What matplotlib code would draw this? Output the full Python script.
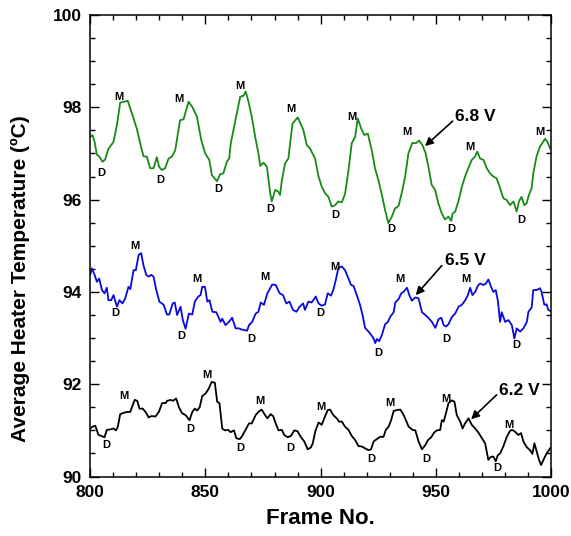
import numpy as np
import matplotlib.pyplot as plt

plt.rcParams['font.family'] = ['Liberation Sans', 'DejaVu Sans']
plt.rcParams['font.weight'] = 'bold'

# heater temperature traces, frame number vs. average temperature (C)
frames_68 = [800.0, 801.0, 801.9, 802.9, 803.9, 805.3, 806.5, 807.9, 810.1, 811.6, 813.0, 814.5,
             816.3, 818.1, 820.2, 821.7, 823.1, 824.6, 826.0, 827.5, 828.9, 829.9, 831.1, 832.5,
             834.0, 835.4, 836.9, 839.0, 840.5, 842.7, 844.4, 846.3, 848.2, 849.9, 851.7, 852.8,
             855.0, 856.4, 857.8, 859.3, 860.3, 861.0, 862.9, 865.1, 866.5, 867.5, 868.7, 870.1,
             871.6, 873.0, 873.8, 875.2, 876.7, 877.4, 878.1, 878.8, 880.3, 881.7, 882.4, 883.2,
             884.6, 886.0, 887.8, 890.1, 892.5, 894.0, 895.4, 897.6, 899.1, 900.5, 901.9, 903.4,
             904.8, 906.3, 907.7, 909.2, 910.6, 912.1, 913.5, 915.0, 916.1, 917.6, 919.0, 920.5,
             922.2, 923.6, 925.1, 926.6, 928.0, 929.4, 930.9, 932.3, 933.8, 935.2, 936.7, 938.1,
             939.8, 941.3, 942.7, 944.2, 945.6, 946.8, 948.2, 949.7, 951.1, 952.6, 954.0, 955.5,
             956.7, 957.3, 958.4, 959.8, 961.3, 962.7, 964.1, 965.6, 967.0, 968.0, 969.2, 970.7,
             972.1, 973.5, 975.0, 976.4, 977.9, 979.3, 980.8, 982.2, 983.7, 985.1, 986.1, 987.2,
             988.4, 989.4, 990.4, 991.6, 992.3, 993.7, 995.2, 996.6, 997.4, 998.5, 999.6]
temp_68 = [97.36, 97.40, 97.25, 96.97, 96.94, 96.82, 96.87, 97.10, 97.25, 97.62, 98.10, 98.12,
           98.14, 97.87, 97.54, 97.22, 96.94, 96.93, 96.68, 96.68, 96.92, 96.71, 96.64, 96.68,
           96.89, 96.93, 97.07, 97.72, 97.74, 98.12, 98.00, 97.80, 97.29, 97.00, 96.86, 96.53,
           96.40, 96.55, 96.57, 96.82, 96.89, 97.22, 97.69, 98.23, 98.25, 98.34, 98.12, 97.80,
           97.36, 97.00, 96.73, 96.80, 96.71, 96.42, 96.14, 95.96, 96.21, 96.17, 96.10, 96.42,
           96.79, 96.89, 97.65, 97.78, 97.51, 97.18, 97.11, 96.89, 96.50, 96.28, 96.14, 96.06,
           95.85, 95.88, 95.96, 95.94, 96.12, 96.64, 97.22, 97.36, 97.76, 97.54, 97.40, 97.43,
           97.07, 96.68, 96.42, 96.10, 95.77, 95.49, 95.63, 95.81, 95.86, 96.14, 96.50, 97.00,
           97.23, 97.22, 97.28, 97.18, 97.00, 96.71, 96.32, 96.21, 95.92, 95.70, 95.57, 95.63,
           95.54, 95.70, 95.74, 95.96, 96.28, 96.50, 96.68, 96.86, 96.93, 97.04, 96.89, 96.86,
           96.68, 96.57, 96.50, 96.46, 96.25, 96.03, 95.99, 95.88, 95.96, 95.74, 95.96, 96.06,
           95.88, 95.92, 96.10, 96.25, 96.57, 96.93, 97.15, 97.25, 97.32, 97.25, 97.11]

frames_65 = [800.0, 800.7, 801.9, 802.9, 803.9, 805.1, 806.2, 807.2, 807.9, 809.1, 810.1, 811.6,
             812.7, 814.0, 815.2, 816.6, 817.4, 818.8, 819.8, 821.0, 822.1, 823.1, 824.3, 825.3,
             826.5, 827.5, 828.5, 830.0, 831.9, 833.3, 834.3, 835.8, 836.7, 837.7, 839.2, 840.2,
             841.4, 842.8, 844.3, 845.4, 846.9, 847.9, 848.6, 849.8, 850.8, 851.8, 853.0, 854.7,
             856.6, 857.3, 858.7, 860.2, 861.6, 863.1, 864.5, 866.0, 868.1, 868.9, 870.3, 871.8,
             873.0, 874.0, 875.4, 876.9, 879.0, 880.5, 882.2, 883.7, 885.1, 886.5, 888.0, 889.5,
             890.9, 892.4, 893.2, 894.7, 896.1, 897.9, 899.1, 900.5, 901.9, 903.1, 904.5, 905.5,
             906.6, 907.7, 909.2, 910.6, 912.1, 913.2, 914.3, 915.7, 917.1, 918.2, 919.3, 920.8,
             921.9, 923.0, 923.7, 924.4, 925.4, 926.6, 928.0, 929.2, 930.2, 931.7, 932.4, 933.8,
             935.0, 936.0, 937.5, 938.5, 939.6, 941.1, 942.5, 944.0, 945.4, 946.9, 948.3, 949.8,
             951.2, 952.4, 953.4, 954.4, 955.5, 957.0, 958.4, 959.9, 961.3, 962.8, 963.9, 964.9,
             965.9, 967.1, 968.2, 969.2, 970.7, 971.7, 972.8, 974.0, 975.0, 976.0, 976.9, 977.9,
             978.6, 980.1, 981.5, 983.0, 984.1, 985.1, 986.6, 988.0, 989.5, 990.2, 991.6, 992.3,
             993.7, 995.2, 995.9, 997.1, 998.1, 998.8, 1000.0]
temp_65 = [94.37, 94.51, 94.37, 94.22, 94.29, 94.04, 93.97, 94.09, 93.82, 93.82, 93.93, 93.68,
           93.82, 93.75, 93.86, 94.11, 94.06, 94.47, 94.47, 94.80, 94.84, 94.58, 94.37, 94.33,
           94.37, 94.33, 94.08, 93.79, 93.72, 93.51, 93.51, 93.75, 93.77, 93.50, 93.68, 93.39,
           93.20, 93.53, 93.51, 93.79, 93.90, 93.93, 94.11, 94.11, 93.79, 93.82, 93.57, 93.56,
           93.35, 93.42, 93.28, 93.35, 93.44, 93.21, 93.21, 93.18, 93.16, 93.28, 93.35, 93.53,
           93.57, 93.77, 93.72, 93.97, 94.16, 94.15, 93.97, 93.93, 93.75, 93.79, 93.61, 93.57,
           93.68, 93.75, 93.61, 93.79, 93.77, 93.90, 93.75, 93.70, 93.73, 93.97, 93.92, 94.04,
           94.26, 94.52, 94.55, 94.47, 94.29, 94.15, 94.13, 93.93, 93.72, 93.50, 93.22, 93.14,
           93.07, 92.99, 92.89, 92.98, 92.93, 93.07, 93.30, 93.35, 93.46, 93.56, 93.77, 93.84,
           93.97, 94.00, 94.09, 93.93, 93.81, 93.88, 93.86, 93.56, 93.50, 93.43, 93.35, 93.22,
           93.41, 93.44, 93.28, 93.25, 93.30, 93.46, 93.53, 93.68, 93.72, 93.82, 93.93, 94.09,
           93.93, 94.00, 94.13, 94.18, 94.15, 94.18, 94.27, 94.11, 94.00, 94.04, 93.82, 93.35,
           93.56, 93.35, 93.39, 93.28, 92.99, 93.21, 93.14, 93.21, 93.35, 93.57, 93.66, 94.04,
           94.04, 94.08, 94.00, 93.72, 93.73, 93.61, 93.58]

frames_62 = [800.0, 801.0, 802.2, 803.6, 804.8, 806.2, 807.2, 808.7, 810.1, 811.2, 812.0, 813.0,
             814.5, 816.0, 817.4, 818.1, 819.3, 820.4, 821.4, 822.8, 824.0, 825.4, 826.6, 828.3,
             829.8, 831.2, 832.7, 833.4, 834.9, 835.9, 837.3, 838.5, 839.9, 841.4, 843.1, 844.3,
             845.4, 846.4, 847.5, 848.6, 850.1, 851.5, 852.7, 854.1, 855.1, 856.1, 857.3, 858.4,
             859.9, 860.9, 862.4, 863.4, 864.9, 866.0, 867.5, 868.9, 870.1, 871.8, 873.0, 874.4,
             875.9, 876.9, 878.3, 879.4, 880.5, 881.7, 883.2, 884.2, 885.7, 887.1, 888.6, 890.0,
             891.5, 892.9, 894.4, 895.8, 896.6, 897.7, 899.1, 900.5, 901.9, 903.1, 904.1, 905.5,
             907.0, 908.0, 909.2, 910.6, 912.1, 913.5, 915.0, 916.4, 917.9, 919.3, 920.8, 921.9,
             923.0, 924.4, 925.8, 927.3, 928.3, 929.5, 930.6, 931.7, 933.1, 934.6, 935.6, 936.7,
             938.2, 939.9, 941.1, 942.5, 944.0, 945.4, 946.6, 948.0, 949.2, 950.5, 951.9, 952.6,
             953.4, 954.4, 955.5, 957.0, 958.1, 959.1, 960.6, 961.6, 962.7, 964.2, 965.6, 967.1,
             968.5, 970.0, 971.4, 972.8, 974.0, 975.0, 976.0, 976.9, 977.9, 979.3, 980.8, 982.2,
             983.2, 984.4, 985.8, 987.0, 988.0, 989.4, 990.9, 991.9, 992.8, 993.8, 994.8, 995.7,
             996.7, 998.1, 999.6]
temp_62 = [91.04, 91.08, 91.10, 90.90, 90.88, 90.85, 91.01, 91.02, 91.04, 91.00, 91.08, 91.35,
           91.38, 91.40, 91.40, 91.50, 91.66, 91.64, 91.47, 91.47, 91.40, 91.28, 91.31, 91.30,
           91.40, 91.59, 91.59, 91.64, 91.66, 91.64, 91.69, 91.50, 91.37, 91.33, 91.22, 91.40,
           91.47, 91.43, 91.50, 91.74, 91.80, 91.91, 92.05, 92.03, 91.62, 91.59, 91.04, 91.00,
           91.01, 90.96, 91.00, 90.83, 90.81, 90.88, 91.02, 91.15, 91.15, 91.33, 91.40, 91.45,
           91.33, 91.26, 91.35, 91.31, 91.15, 91.00, 91.01, 90.90, 90.85, 90.88, 91.00, 90.98,
           90.85, 90.76, 90.59, 90.63, 90.72, 90.98, 91.17, 91.12, 91.30, 91.44, 91.45, 91.33,
           91.26, 91.19, 91.19, 91.08, 91.01, 90.88, 90.79, 90.66, 90.65, 90.61, 90.57, 90.59,
           90.76, 90.81, 90.86, 90.86, 91.01, 91.08, 91.22, 91.42, 91.44, 91.45, 91.37, 91.26,
           91.08, 91.01, 91.00, 90.76, 90.59, 90.68, 90.79, 90.85, 90.95, 91.00, 91.01, 91.22,
           91.19, 91.37, 91.59, 91.65, 91.62, 91.33, 91.19, 91.04, 91.15, 91.26, 91.12, 91.04,
           90.95, 90.83, 90.72, 90.36, 90.43, 90.43, 90.33, 90.46, 90.50, 90.65, 90.86, 90.99,
           91.01, 90.97, 90.90, 90.94, 90.76, 90.64, 90.57, 90.49, 90.72, 90.54, 90.36, 90.25,
           90.36, 90.50, 90.61]

# max (M) / min (D) markers: frame, temperature, letter
marks_68 = [(804.8, 96.58, 'D'), (812.3, 98.22, 'M'), (830.4, 96.42, 'D'), (838.6, 98.19, 'M'),
            (855.7, 96.23, 'D'), (864.8, 98.47, 'M'), (878.1, 95.79, 'D'), (887.2, 97.96, 'M'),
            (906.3, 95.67, 'D'), (913.5, 97.80, 'M'), (930.9, 95.36, 'D'), (937.4, 97.47, 'M'),
            (956.9, 95.36, 'D'), (964.9, 97.13, 'M'), (987.3, 95.56, 'D'), (995.2, 97.47, 'M')]
marks_65 = [(811.1, 93.54, 'D'), (819.2, 95.00, 'M'), (839.5, 93.04, 'D'), (846.3, 94.28, 'M'),
            (870.1, 92.97, 'D'), (875.9, 94.32, 'M'), (899.8, 93.54, 'D'), (906.3, 94.53, 'M'),
            (925.1, 92.67, 'D'), (934.5, 94.28, 'M'), (954.7, 92.97, 'D'), (963.0, 94.28, 'M'),
            (985.1, 92.86, 'D')]
marks_62 = [(807.2, 90.68, 'D'), (814.5, 91.74, 'M'), (843.4, 91.04, 'D'), (850.6, 92.20, 'M'),
            (865.1, 90.61, 'D'), (873.8, 91.64, 'M'), (886.8, 90.61, 'D'), (900.3, 91.50, 'M'),
            (922.2, 90.39, 'D'), (930.2, 91.60, 'M'), (946.0, 90.39, 'D'), (954.4, 91.67, 'M'),
            (976.9, 90.18, 'D'), (981.5, 91.12, 'M')]

# voltage labels: text, arrow tip, text position
volt_labels = [('6.8 V', (945.3, 97.16), (958.5, 97.80)),
               ('6.5 V', (941.3, 93.93), (953.8, 94.67)),
               ('6.2 V', (965.3, 91.24), (977.6, 91.87))]

fig = plt.figure(figsize=(5.71, 5.36), dpi=100)
ax = fig.add_axes([0.158, 0.111, 0.807, 0.861])

ax.plot(frames_68, temp_68, color='#178a17', lw=1.3)
ax.plot(frames_65, temp_65, color='#0a0adc', lw=1.3)
ax.plot(frames_62, temp_62, color='black', lw=1.3)

for marks in (marks_68, marks_65, marks_62):
    for f, t, s in marks:
        ax.text(f, t, s, fontsize=8, fontweight='bold', ha='center', va='center')

for txt, tip, pos in volt_labels:
    ax.annotate('', xy=tip, xytext=(pos[0] - 1.2, pos[1] - 0.1),
                arrowprops=dict(arrowstyle='-|>', color='black', lw=1.2,
                                mutation_scale=12, shrinkA=0, shrinkB=0))
    ax.text(pos[0], pos[1], txt, fontsize=12.5, fontweight='bold', ha='left', va='center')

ax.set_xlim(800, 1000)
ax.set_ylim(90, 100)
ax.set_xticks(np.arange(800, 1001, 50))
ax.set_xticks(np.arange(800, 1001, 10), minor=True)
ax.set_yticks(np.arange(90, 101, 2))
ax.set_yticks(np.arange(90, 100.1, 0.5), minor=True)
ax.tick_params(which='both', direction='in', top=True, right=True, width=1)
ax.tick_params(which='major', length=6.5, labelsize=12.5, pad=6)
ax.tick_params(which='minor', length=3.5)
for lab in ax.get_xticklabels() + ax.get_yticklabels():
    lab.set_fontweight('bold')
for sp in ax.spines.values():
    sp.set_linewidth(1.1)

ax.set_xlabel('Frame No.', fontsize=16, fontweight='bold', labelpad=6)
ax.set_ylabel('Average Heater Temperature (\u00baC)', fontsize=15, fontweight='bold')
ax.yaxis.set_label_coords(-0.13, 0.428)

fig.savefig('out.png', dpi=100)
